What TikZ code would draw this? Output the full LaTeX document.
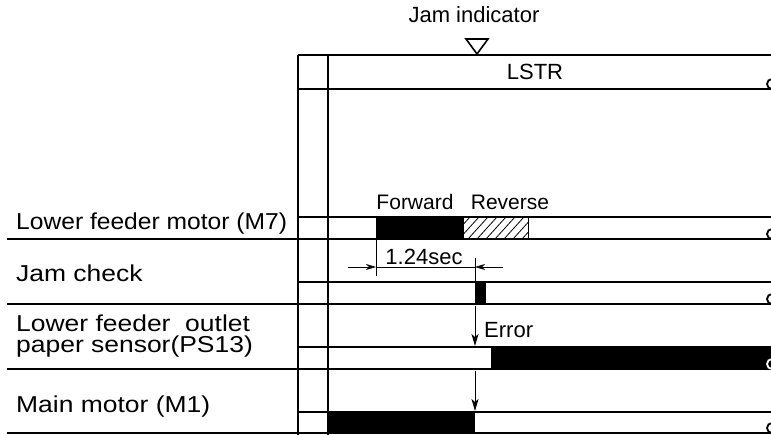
\documentclass[tikz,border=0pt]{standalone}
\usepackage{fontspec}
\setmainfont{Liberation Sans}
\usetikzlibrary{arrows.meta}
\begin{document}
\begin{tikzpicture}[x=1pt,y=-1pt,
  rowline/.style={line width=2pt},
  dimline/.style={line width=0.8pt},
  arr/.style={line width=1pt,-{Stealth[length=12pt,width=7pt,inset=3pt]}},
  dimarr/.style={line width=0.8pt,-{Stealth[length=10pt,width=6pt,inset=3pt]}},
  lbl/.style={anchor=base west,inner sep=0pt,font=\fontsize{23}{25}\selectfont},
  txt/.style={inner sep=0pt,font=\fontsize{22}{24}\selectfont},
  bar/.style={fill=black},
  curl/.style={line width=1.8pt}]
\useasboundingbox (0,0) rectangle (771,435);
\clip (0,0) rectangle (771,435);

% frame
\draw[rowline] (298,55) -- (771,55);
\draw[rowline] (298,89) -- (771,89);
\draw[rowline] (298,55) -- (298,435);
\draw[rowline] (328,55) -- (328,435);

% jam indicator
\node[txt] (jamind) at (474,15) {Jam indicator};
\draw[line width=1.6pt,line join=miter] (466,39) -- (488,39) -- (477,54) -- cycle;
\node[txt] (lstr) at (535,72) {LSTR};

% rows
\foreach \t/\b in {217/239,282/304,347/369,412/433}{
  \draw[rowline] (298,\t) -- (771,\t);
  \draw[rowline] (7,\b) -- (771,\b);
}

% labels
\node[lbl] (m7) at (16,230) {\scalebox{1.07}[1]{Lower feeder motor (M7)}};
\node[lbl] (jc) at (16,282) {\scalebox{1.15}[1]{Jam check}};
\node[lbl,align=left,font=\fontsize{23}{21}\selectfont] (ps) at (16,353)
  {\scalebox{1.15}[1]{Lower feeder\ \ outlet}\\\scalebox{1.15}[1]{paper sensor(PS13)}};
\node[lbl] (m1) at (16,413) {\scalebox{1.15}[1]{Main motor (M1)}};

% M7 forward / reverse
\fill[bar] (376,217) rectangle (464,239);
\begin{scope}
  \clip (464,217) rectangle (528,239);
  \foreach \x in {450,459,...,540}{
    \draw[line width=0.8pt] (\x,239) -- (\x+20,217);
  }
\end{scope}
\draw[line width=1pt] (528,217) -- (528,239);
\node[txt,font=\fontsize{21}{23}\selectfont] (fwd) at (415,202) {Forward};
\node[txt,font=\fontsize{21}{23}\selectfont] (rev) at (510,202) {Reverse};

% jam check pulse
\fill[bar] (475,282) rectangle (486,304);

% dimension 1.24sec
\coordinate (e1t) at (376,239);
\coordinate (e1b) at (376,276);
\coordinate (e2t) at (475,258);
\coordinate (e2b) at (475,282);
\draw[dimline] (e1t) -- (e1b);
\draw[dimline] (e2t) -- (e2b);
\coordinate (d1s) at (348,267);
\coordinate (d1e) at (376,267);
\coordinate (d2s) at (503,267);
\coordinate (d2e) at (475,267);
\draw[dimarr] (d1s) -- (d1e);
\draw[dimarr] (d2s) -- (d2e);
\draw[dimline] (d1e) -- (d2e);
\node[txt] (sec) at (424,257) {1.24sec};

% PS13
\fill[bar] (491,347) rectangle (771,369);
\coordinate (er1) at (475,306);
\coordinate (er2) at (475,346);
\draw[arr] (er1) -- (er2);
\node[txt,anchor=west] (err) at (484,330) {Error};

% M1
\fill[bar] (328,412) rectangle (475,433);
\coordinate (m1a) at (475,371);
\coordinate (m1b) at (475,411);
\draw[arr] (m1a) -- (m1b);

% right-end curls
\draw[curl] (772,84) circle (5pt);
\draw[curl] (772,234) circle (5pt);
\draw[curl] (772,299) circle (5pt);
\draw[curl,white] (772,364) circle (5pt);
\draw[curl] (772,428) circle (5pt);
\end{tikzpicture}
\end{document}
